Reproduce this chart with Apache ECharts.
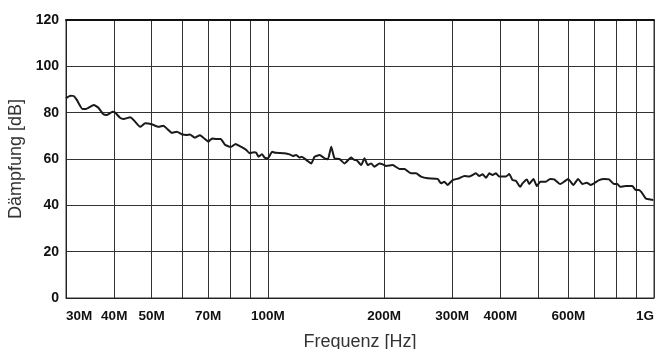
<!DOCTYPE html>
<html>
<head>
<meta charset="utf-8">
<script src="https://cdn.jsdelivr.net/npm/echarts@6/dist/echarts.min.js"></script>
<style>
html,body{margin:0;padding:0;background:#fff;}
#c{width:655px;height:349px;}
</style>
</head>
<body>
<div id="c"></div>
<script>
// Frequency in MHz
var freqMHz = [30.0, 30.8, 31.4, 32.0, 33.1, 33.8, 35.4, 36.4, 37.5, 38.3, 39.6, 40.2, 41.4, 42.3, 44.0, 44.9, 46.7, 48.1, 50.0, 52.1, 53.6, 54.7, 56.4, 58.1, 59.8, 61.6, 62.8, 64.7, 66.7, 68.7, 70.1,
  71.7, 73.6, 75.5, 77.3, 79.6, 80.4, 82.5, 84.5, 86.7, 87.9, 89.7, 92.0, 93.3, 94.6, 96.5, 98.1, 100, 102.6, 104.5, 110.5, 113.8, 116.0, 118.4, 120.8, 122.4, 125.7, 129.5, 132.1, 136.1, 140.2, 143.0, 145.9, 148.8, 153.3, 157.9, 164.3, 167.6,
  169.3, 174.4, 177.9, 181.4, 185.1, 188.8, 194.5, 198.4, 202.4, 210.5, 219.1, 225.7, 234.9, 242.0, 249.3, 259.4, 275.2, 280.8, 286.4, 292.1, 300.9, 313.2, 322.7, 332.4, 339.0, 345.9, 352.8, 359.8, 367.1, 374.4, 381.8, 389.6,
  397.4, 413.5, 421.7, 430.1, 438.9, 450.3, 456.5, 468.6, 475.1, 487.4, 497.3, 507.2, 524.6, 538.3, 551.3, 571.3, 585.1, 599.2, 618.4, 636.0, 652.5, 669.8, 685.9, 699.5, 720.7, 742.5, 764.9, 788.1, 803.7, 816.7, 844.9, 878.7, 896.7, 914.4, 932.5, 951.6, 970.7, 995.9, 1000];
// Attenuation in dB
var dampingDB = [86.2, 87.3, 87.2, 85.5, 81.6, 81.6, 83.3, 82.1, 79.3, 79.0, 80.4, 80.1, 77.8, 77.3, 78.0, 76.8, 73.9, 75.4, 75.0, 73.9, 74.4, 73.2, 71.3, 71.8, 70.7, 70.4, 70.6, 69.2, 70.3, 68.6, 67.5,
  68.9, 68.6, 68.6, 66.3, 65.3, 65.3, 66.5, 65.6, 64.6, 63.9, 62.5, 62.9, 62.7, 61.0, 62.1, 60.6, 60.3, 63.1, 62.7, 62.5, 62.0, 61.3, 61.7, 60.6, 61.0, 59.6, 58.1, 61.0, 61.7, 60.3, 59.9, 65.3, 60.3, 60.0, 58.1, 60.6, 59.6,
  59.6, 57.4, 60.3, 57.4, 58.1, 56.7, 58.1, 57.7, 57.0, 57.4, 55.7, 55.7, 53.8, 53.8, 52.4, 51.7, 51.4, 49.5, 50.2, 48.8, 50.9, 51.7, 52.7, 52.4, 53.1, 53.8, 52.7, 53.4, 51.9, 53.8, 53.1, 53.8,
  52.4, 52.4, 53.5, 50.9, 50.6, 48.0, 49.5, 51.2, 49.2, 51.4, 48.3, 50.2, 50.2, 51.4, 51.2, 49.2, 50.2, 51.4, 48.8, 51.4, 49.2, 49.8, 48.8, 49.5, 50.9, 51.4, 51.2, 49.2, 49.2, 48.0, 48.3, 48.3, 46.6, 46.6, 45.2, 43.0, 42.6, 42.3, 42.3];

var gridLinesMHz = [30, 40, 50, 60, 70, 80, 90, 100, 200, 300, 400, 500, 600, 700, 800, 900, 1000];
var labelMHz = [30, 40, 50, 70, 100, 200, 300, 400, 600, 1000];
var yTicks = [0, 20, 40, 60, 80, 100, 120];

var chart = echarts.init(document.getElementById('c'), null, {renderer: 'canvas'});
var font = "'Liberation Sans', Arial, Helvetica, sans-serif";
var pts = freqMHz.map(function (f, i) { return [f, dampingDB[i]]; });

chart.setOption({
  animation: false,
  backgroundColor: '#fff',
  grid: {left: 66, right: 1, top: 20, bottom: 51, show: true, borderColor: '#333', borderWidth: 1,
         containLabel: false, outerBoundsMode: 'none'},
  xAxis: [{
    type: 'log', logBase: 10, min: 30, max: 1000,
    name: 'Frequenz [Hz]', nameLocation: 'middle', nameGap: 35,
    nameTextStyle: {fontFamily: font, fontSize: 18, color: '#333'},
    axisLine: {show: true, lineStyle: {color: '#222', width: 1}},
    axisTick: {show: false, customValues: gridLinesMHz},
    axisLabel: {
      customValues: labelMHz, fontFamily: font, fontSize: 13.5, fontWeight: 'bold', color: '#111', margin: 11,
      alignMinLabel: 'left', alignMaxLabel: 'right',
      formatter: function (v) { return v >= 1000 ? (v / 1000) + 'G' : v + 'M'; }
    },
    splitLine: {show: true, lineStyle: {color: '#333', width: 1}},
    minorSplitLine: {show: false}
  }, {
    type: 'log', logBase: 10, min: 30, max: 1000, position: 'top',
    axisLine: {show: true, lineStyle: {color: '#111', width: 2}},
    axisTick: {show: false}, axisLabel: {show: false}, splitLine: {show: false}
  }],
  yAxis: {
    type: 'value', min: 0, max: 120, interval: 20,
    name: 'Dämpfung [dB]', nameLocation: 'middle', nameGap: 37, nameRotate: 90,
    nameTextStyle: {fontFamily: font, fontSize: 18, color: '#333'},
    axisLine: {show: true, lineStyle: {color: '#222', width: 1}},
    axisTick: {show: false},
    axisLabel: {fontFamily: font, fontSize: 14, fontWeight: 'bold', color: '#111', margin: 7},
    splitLine: {show: true, lineStyle: {color: '#333', width: 1}}
  },
  series: [{
    type: 'line', xAxisIndex: 0, data: pts, showSymbol: false, symbol: 'none',
    lineStyle: {color: '#1a1a1a', width: 2}, smooth: 0.15
  }]
});
</script>
</body>
</html>
